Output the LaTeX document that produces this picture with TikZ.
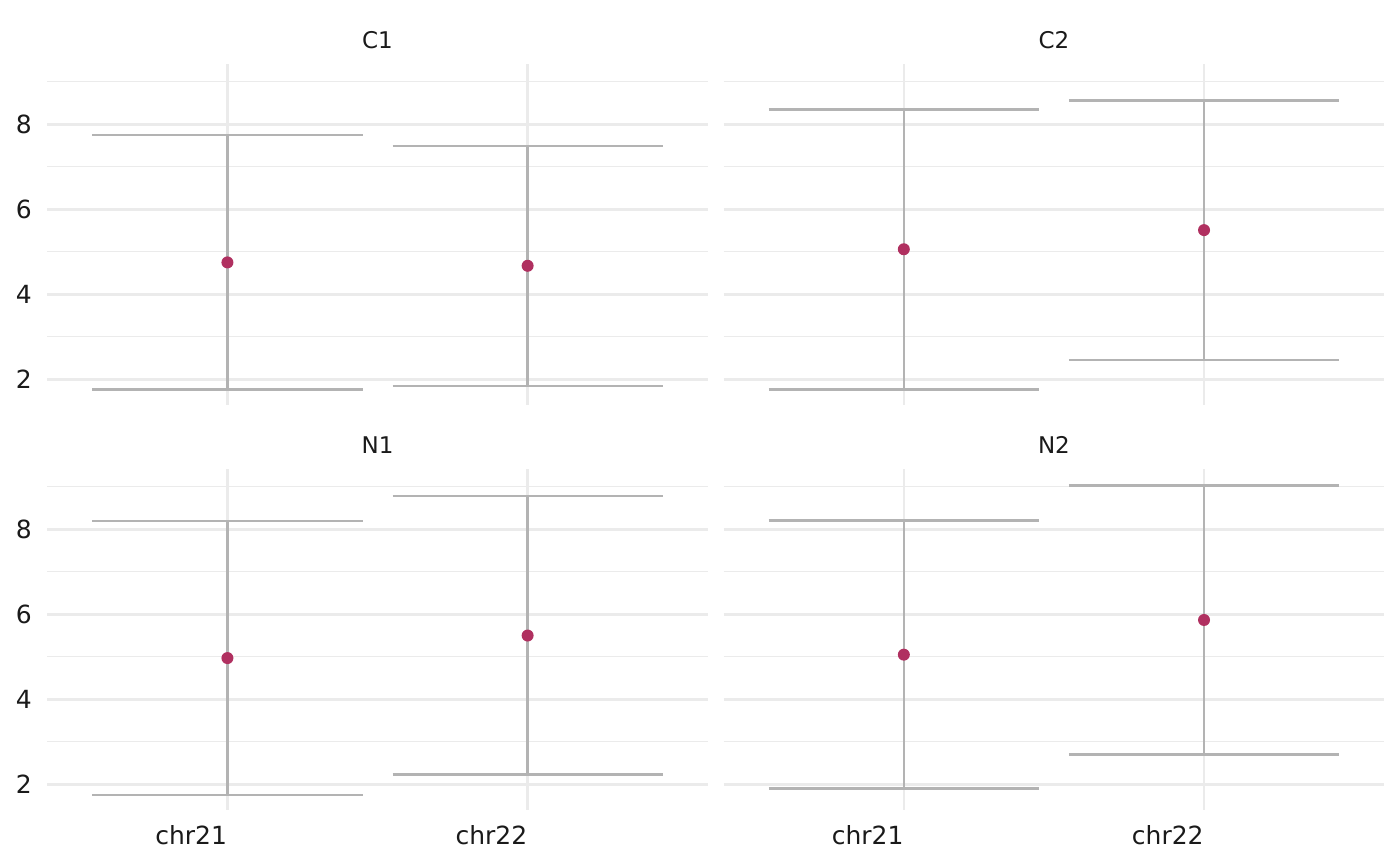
\documentclass[tikz,border=0pt]{standalone}
\usepackage{fontspec}
\setmainfont{DejaVu Sans}
\definecolor{gridgrey}{HTML}{EBEBEB}
\definecolor{bargrey}{HTML}{B3B3B3}
\definecolor{ptred}{HTML}{B03060}
\definecolor{txtdark}{HTML}{1A1A1A}
\tikzset{
  majorgrid/.style={draw=gridgrey, line width=1.3pt},
  minorgrid/.style={draw=gridgrey, line width=0.65pt},
  errbar/.style={draw=bargrey, line width=1.25pt},
  meanpt/.style={fill=ptred},
  ticklabel/.style={text=txtdark, inner sep=0pt, font=\fontsize{12.5}{14}\selectfont},
  striplabel/.style={text=txtdark, inner sep=0pt, font=\fontsize{11.5}{14}\selectfont}
}

\begin{document}
\begin{tikzpicture}
\useasboundingbox (0,0) rectangle (700pt,432.5pt);
% one panel per sample: shift, name, chr21 low/mean/high, chr22 low/mean/high
\foreach \dx/\dy/\lab/\la/\ma/\ua/\lb/\mb/\ub in {
  -36.39/200.35/C1/1.765/4.75/7.75/1.84/4.67/7.49,
  301.81/200.35/C2/1.765/5.06/8.35/2.45/5.51/8.56,
  -36.39/-2.15/N1/1.75/4.97/8.195/2.235/5.50/8.78,
  301.81/-2.15/N2/1.906/5.05/8.21/2.706/5.866/9.035}{
\begin{scope}[shift={(\dx pt,\dy pt)}, x=150.1pt, y=21.25pt]
  \foreach \v in {3,5,7,9} \draw[minorgrid] (0.4,\v) -- (2.6,\v);
  \foreach \v in {2,4,6,8} \draw[majorgrid] (0.4,\v) -- (2.6,\v);
  \foreach \c in {1,2} \draw[majorgrid] (\c,1.395) -- (\c,9.41);
  \draw[errbar] (0.55,\ua) -- (1.45,\ua) (1,\ua) -- (1,\la) (0.55,\la) -- (1.45,\la);
  \draw[errbar] (1.55,\ub) -- (2.45,\ub) (2,\ub) -- (2,\lb) (1.55,\lb) -- (2.45,\lb);
  \fill[meanpt] (1,\ma) circle [radius=3pt];
  \fill[meanpt] (2,\mb) circle [radius=3pt];
  \node[striplabel, anchor=base, yshift=7.7pt] (strip\lab) at (1.5,9.41) {\lab};
\end{scope}}
% y axis labels, left column
\foreach \dy/\row in {200.35/top,-2.15/bot}{
\begin{scope}[shift={(-36.39pt,\dy pt)}, x=150.1pt, y=21.25pt]
  \foreach \v in {2,4,6,8} \node[ticklabel, anchor=east, xshift=-7.5pt] (y\row\v) at (0.4,\v) {\v};
\end{scope}}
% x axis labels, bottom row
\foreach \dx/\col in {-36.39/l,301.81/r}{
\begin{scope}[shift={(\dx pt,-2.15pt)}, x=150.1pt, y=21.25pt]
  \node[ticklabel, anchor=base east, yshift=-17pt] (x\col21) at (1,1.395) {chr21};
  \node[ticklabel, anchor=base east, yshift=-17pt] (x\col22) at (2,1.395) {chr22};
\end{scope}}
\end{tikzpicture}
\end{document}
